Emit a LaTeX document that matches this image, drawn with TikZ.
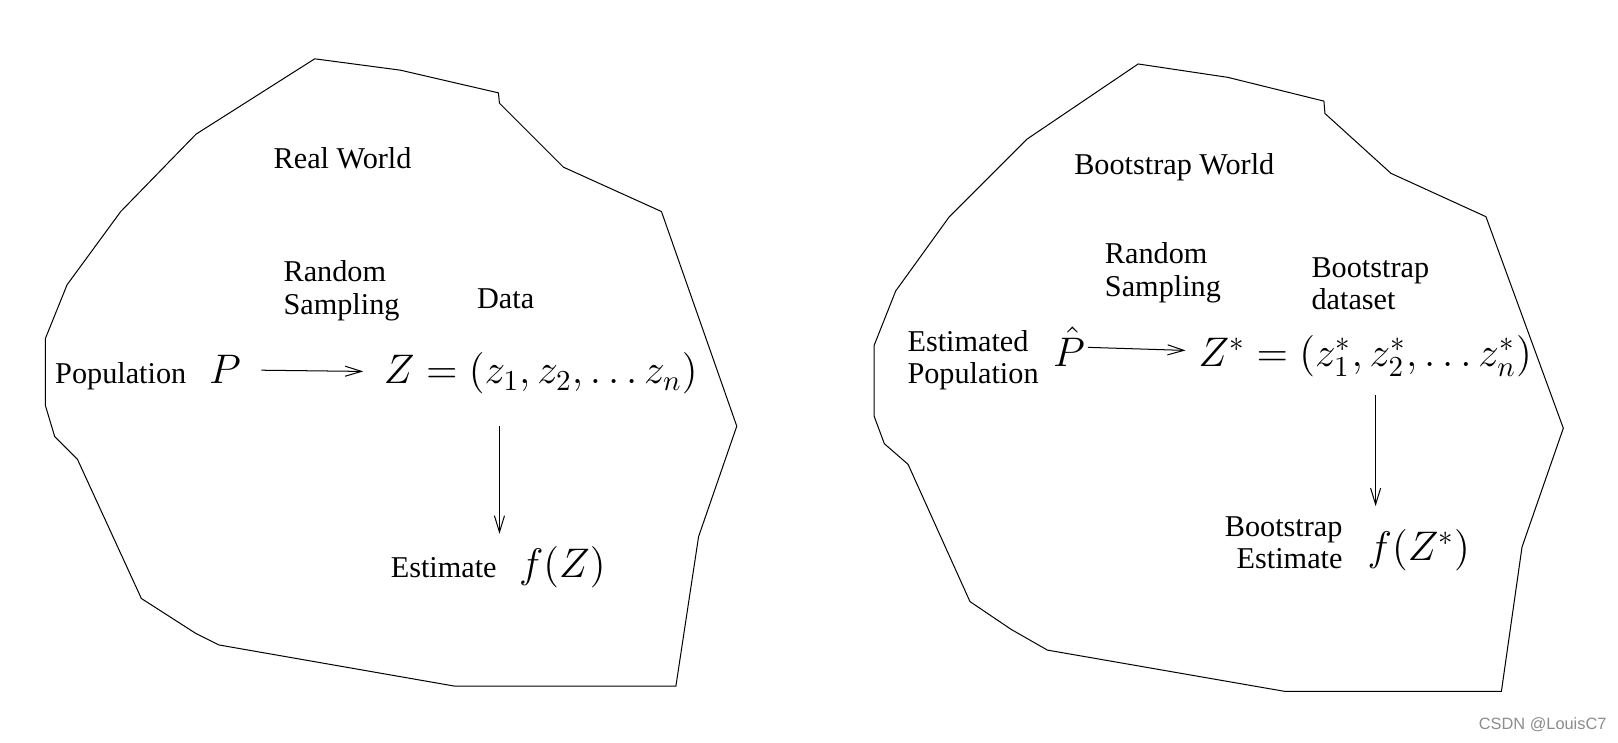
\documentclass[tikz,border=0pt]{standalone}
\usepackage{fix-cm}
\usepackage[no-math]{fontspec}
\setmainfont{Liberation Serif}
\newfontfamily\marksans{Liberation Sans}
\usetikzlibrary{arrows.meta}
\begin{document}
\begin{tikzpicture}[scale=0.1439]
			\tikzstyle{every node}+=[inner sep=0pt, font=\fontsize{12}{13}\selectfont]
			\tikzstyle{mathbig}=[font=\fontsize{16.4}{19}\selectfont]
			\tikzstyle{twoline}=[align=left]
			\tikzstyle{arr}=[-{Straight Barb[length=6.5pt,width=4pt]}]
			\useasboundingbox (0,0) rectangle (156.8,-72.0);
			% real world
			\draw [black] (30.5,-5.7) -- (38.8,-6.8) -- (48.3,-9.0) -- (48.4,-10.0) -- (54.6,-16.2) -- (64.1,-20.5) -- (71.4,-41.3) -- (67.7,-52.0) -- (65.5,-66.5) -- (44.1,-66.5) -- (21.2,-62.5) -- (19.0,-61.4) -- (13.7,-58.0) -- (7.5,-44.5) -- (5.3,-42.3) -- (4.4,-39.3) -- (4.4,-32.8) -- (6.5,-27.6) -- (11.7,-20.5) -- (19.0,-13.0) -- cycle;
			\node (rw) at (33.2,-15.3) {Real World};
			\node [twoline] (rs) at (33.1,-28.2) {Random\\Sampling};
			\node (dat) at (49.0,-29.0) {Data};
			\node [anchor=base] (pop) at (11.7,-37.2) {Population};
			\node [mathbig, anchor=base] (P) at (21.8,-37.2) {$P$};
			\node [mathbig, anchor=base] (Zdat) at (52.4,-37.2) {$Z=(z_1,z_2,\ldots z_n)$};
			\node [anchor=base] (est) at (43.0,-56.0) {Estimate};
			\node [mathbig, anchor=base] (fZ) at (54.5,-56.0) {$f(Z)$};
			\draw [arr, shorten <=8pt, shorten >=8pt] (P) -- (Zdat);
			\coordinate (v1) at (48.4,-41.3);
			\draw [arr, shorten >=5pt] (v1) -- (v1 |- fZ.north);
			% bootstrap world
			\draw [black] (110.3,-6.2) -- (119.0,-7.5) -- (128.3,-9.8) -- (128.4,-11.0) -- (134.8,-16.8) -- (144.0,-21.0) -- (151.5,-41.5) -- (147.5,-53.0) -- (145.5,-67.0) -- (124.5,-67.0) -- (101.5,-63.0) -- (98.0,-61.0) -- (94.0,-58.3) -- (88.0,-45.0) -- (85.7,-43.0) -- (84.7,-40.3) -- (84.7,-33.5) -- (86.8,-28.2) -- (92.0,-21.0) -- (99.5,-13.5) -- cycle;
			\node (bw) at (113.8,-16.2) {Bootstrap World};
			\node [twoline] (rs2) at (112.7,-26.4) {Random\\Sampling};
			\node [twoline] (bd) at (132.8,-27.5) {Bootstrap\\dataset};
			\node [twoline] (epop) at (94.3,-34.9) {Estimated\\Population};
			\node [mathbig, anchor=base] (Ph) at (103.6,-35.5) {$\hat P$};
			\node [mathbig, anchor=base] (Zs) at (132.3,-35.5) {$Z^*=(z_1^*,z_2^*,\ldots z_n^*)$};
			\node [twoline, align=right] (best) at (124.4,-52.6) {Bootstrap\\Estimate};
			\node [mathbig, anchor=base] (fZs) at (137.5,-54.3) {$f(Z^*)$};
			\draw [arr, shorten <=1pt, shorten >=5pt] (Ph) -- (Zs);
			\coordinate (v2) at (133.3,-38.3);
			\draw [arr, shorten >=9pt] (v2) -- (v2 |- fZs.north);
			\node [font=\marksans\fontsize{6.5}{8}\selectfont, text=black!45] (mark) at (149.5,-70.2) {CSDN @LouisC7};
\end{tikzpicture}
\end{document}
